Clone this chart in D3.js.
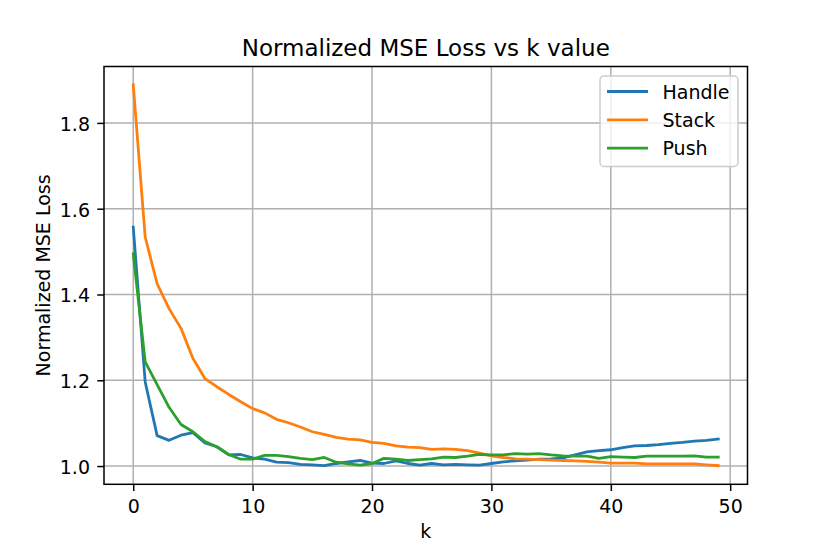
<!DOCTYPE html>
<html><head><meta charset="utf-8">
<script src="https://cdn.jsdelivr.net/npm/d3@7"></script>
<style>body{margin:0;background:#fff}svg{display:block;font-family:"DejaVu Sans",sans-serif}</style>
</head><body>
<svg id="c" width="830" height="554"></svg>
<script>
const kValues = d3.range(0, 50);
const handle = [1.557,1.196,1.071,1.060,1.072,1.078,1.054,1.045,1.026,1.027,1.019,1.016,1.009,1.008,1.004,1.003,1.001,1.006,1.010,1.013,1.007,1.006,1.012,1.006,1.002,1.006,1.003,1.004,1.003,1.002,1.006,1.010,1.012,1.014,1.016,1.017,1.019,1.026,1.033,1.036,1.038,1.043,1.047,1.048,1.050,1.053,1.055,1.058,1.060,1.063];
const stack = [1.889,1.534,1.425,1.367,1.321,1.251,1.204,1.185,1.167,1.150,1.134,1.124,1.109,1.101,1.091,1.080,1.074,1.067,1.063,1.061,1.055,1.053,1.047,1.044,1.043,1.039,1.040,1.039,1.036,1.030,1.024,1.020,1.017,1.016,1.015,1.014,1.013,1.012,1.011,1.009,1.007,1.007,1.007,1.005,1.005,1.005,1.005,1.005,1.003,1.001];
const push = [1.495,1.243,1.190,1.137,1.097,1.080,1.057,1.045,1.027,1.016,1.016,1.025,1.025,1.022,1.018,1.015,1.020,1.009,1.005,1.002,1.006,1.018,1.016,1.013,1.015,1.017,1.021,1.020,1.023,1.027,1.026,1.026,1.029,1.028,1.029,1.026,1.024,1.023,1.023,1.018,1.022,1.021,1.020,1.023,1.023,1.023,1.023,1.024,1.021,1.021];
const seriesNames = ["Handle","Stack","Push"];
const seriesColors = ["#1f77b4","#ff7f0e","#2ca02c"];
const xTicks = [0,10,20,30,40,50];
const yTicks = [1.0,1.2,1.4,1.6,1.8];

const svg = d3.select("#c");
const L=104, R=747.5, T=66.5, B=484.3;
const x = d3.scaleLinear().domain([-2.45, 51.45]).range([L, R]);
const y = d3.scaleLinear().domain([0.9575, 1.9315]).range([B, T]);
const FS = "19px";

// grid
const g = svg.append("g");
g.selectAll(".gx").data(xTicks).enter().append("line")
  .attr("x1",d=>x(d)).attr("x2",d=>x(d)).attr("y1",T).attr("y2",B)
  .attr("stroke","#b0b0b0").attr("stroke-width",1.5);
g.selectAll(".gy").data(yTicks).enter().append("line")
  .attr("x1",L).attr("x2",R).attr("y1",d=>y(d)).attr("y2",d=>y(d))
  .attr("stroke","#b0b0b0").attr("stroke-width",1.5);

// lines
const all = [handle, stack, push];
const line = d3.line().x((d,i)=>x(kValues[i])).y(d=>y(d));
all.forEach((s,i)=>{
  svg.append("path").datum(s).attr("d",line).attr("fill","none")
    .attr("stroke",seriesColors[i]).attr("stroke-width",2.8)
    .attr("stroke-linejoin","round").attr("stroke-linecap","square");
});

// axes
const xAxis = d3.axisBottom(x).tickValues(xTicks).tickSize(6.7).tickPadding(0).tickFormat(d3.format("d"));
const yAxis = d3.axisLeft(y).tickValues(yTicks).tickSize(6.7).tickPadding(0).tickFormat(d3.format(".1f"));
const gx = svg.append("g").attr("transform",`translate(0,${B})`).call(xAxis);
const gy = svg.append("g").attr("transform",`translate(${L},0)`).call(yAxis);
[gx,gy].forEach(a=>{
  a.select(".domain").remove();
  a.selectAll(".tick line").attr("stroke","#000").attr("stroke-width",1.5);
  a.selectAll(".tick text").attr("font-size",FS).attr("fill","#000").attr("font-family","DejaVu Sans");
});
gx.selectAll(".tick text").attr("y",513-B).attr("dy",null);
gy.selectAll(".tick text").attr("x",90-L).attr("dy",null).attr("y",7.5);
// spines
svg.append("rect").attr("x",L).attr("y",T).attr("width",R-L).attr("height",B-T)
  .attr("fill","none").attr("stroke","#000").attr("stroke-width",1.5);

// title & labels
svg.append("text").attr("x",(L+R)/2).attr("y",56).attr("text-anchor","middle")
  .attr("font-size","23px").text("Normalized MSE Loss vs k value");
svg.append("text").attr("x",(L+R)/2).attr("y",537.5).attr("text-anchor","middle")
  .attr("font-size",FS).text("k");
svg.append("text").attr("transform",`translate(50,${(T+B)/2}) rotate(-90)`).attr("text-anchor","middle")
  .attr("font-size",FS).text("Normalized MSE Loss");

// legend
const lg = svg.append("g");
lg.append("rect").attr("x",600).attr("y",76).attr("width",138).attr("height",90.5).attr("rx",4)
  .attr("fill","#fff").attr("fill-opacity",0.8).attr("stroke","#cccccc").attr("stroke-width",1.5);
seriesNames.forEach((n,i)=>{
  const yy = 91.5 + i*28.3;
  lg.append("line").attr("x1",607).attr("x2",648).attr("y1",yy).attr("y2",yy)
    .attr("stroke",seriesColors[i]).attr("stroke-width",2.8);
  lg.append("text").attr("x",662.5).attr("y",yy+7).attr("font-size",FS).text(n);
});
</script>
</body></html>
